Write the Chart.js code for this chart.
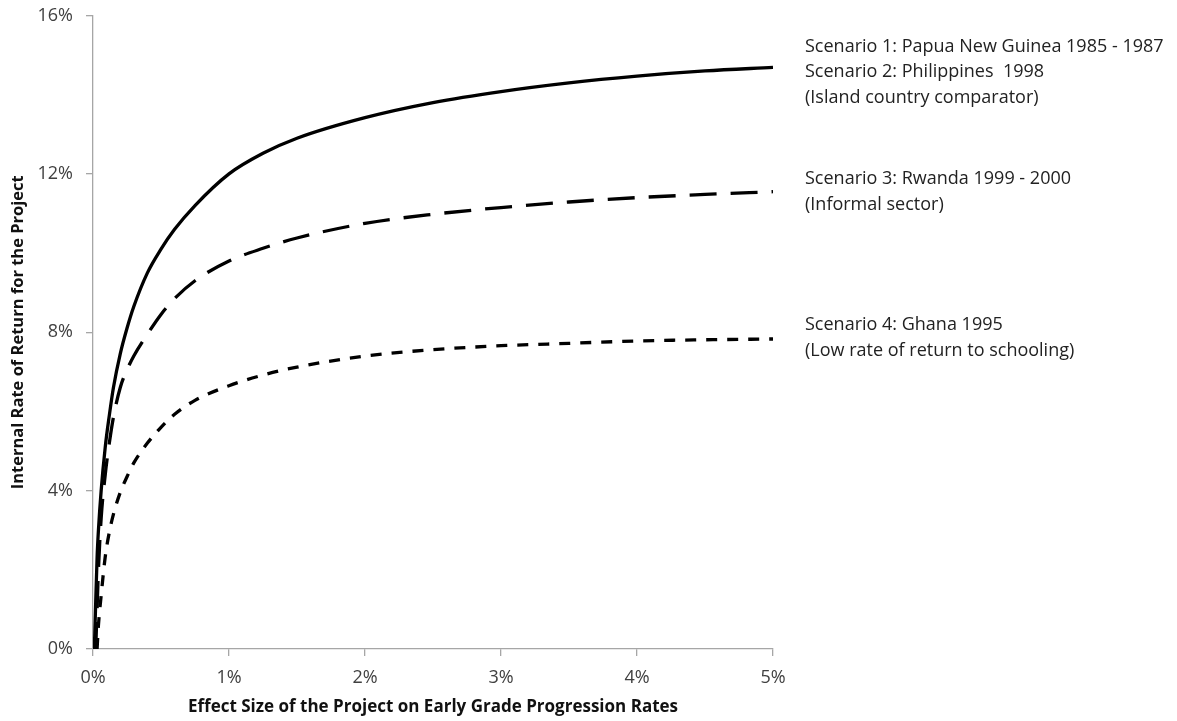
<!DOCTYPE html>
<html>
<head>
<meta charset="utf-8">
<script src="https://cdn.jsdelivr.net/npm/chart.js@4.4.1/dist/chart.umd.min.js"></script>
<style>
  html, body { margin: 0; padding: 0; background: #fff; }
  #irrChart { display: block; }
</style>
</head>
<body>
<canvas id="irrChart" width="1177" height="721"></canvas>
<script>
// effect size (%) sampled along the x axis
var effectSize = [0, 0.01, 0.02, 0.03, 0.04, 0.06, 0.09, 0.12, 0.15, 0.2, 0.25, 0.3, 0.4, 0.5, 0.6, 0.75, 1, 1.25, 1.5, 2, 2.5, 3, 3.5, 4, 4.5, 5];

// IRR (%)
var irrScenario12 = [null, 0, 1.2, 2.3, 3.0, 4.0, 5.1, 5.9, 6.6, 7.45, 8.1, 8.65, 9.5, 10.1, 10.6, 11.2, 12.0, 12.52, 12.9, 13.42, 13.8, 14.08, 14.3, 14.47, 14.6, 14.69];
var irrScenario3 = [null, null, 0, 1.0, 2.0, 3.3, 4.4, 5.2, 5.85, 6.6, 7.05, 7.4, 7.95, 8.45, 8.85, 9.3, 9.8, 10.12, 10.38, 10.75, 10.98, 11.15, 11.29, 11.4, 11.48, 11.55];
var irrScenario4 = [null, null, null, 0, 0.6, 1.35, 2.33, 2.95, 3.4, 3.95, 4.35, 4.7, 5.2, 5.6, 5.93, 6.28, 6.65, 6.92, 7.12, 7.4, 7.56, 7.66, 7.72, 7.78, 7.81, 7.83];

var xTicks = [0, 1, 2, 3, 4, 5];
var yTicks = [0, 4, 8, 12, 16];

// text beside the lines, first line anchored at a value on the y axis
var scenarioLabels = [
    { top: 15.22, lines: ["Scenario 1: Papua New Guinea 1985 - 1987", "Scenario 2: Philippines  1998", "(Island country comparator)"] },
    { top: 11.87, lines: ["Scenario 3: Rwanda 1999 - 2000", "(Informal sector)"] },
    { top: 8.18, lines: ["Scenario 4: Ghana 1995", "(Low rate of return to schooling)"] }
];

function toPoints(values){
    var pts = [];
    values.forEach(function(v, i){
        if(v !== null){
            pts.push({ x: effectSize[i], y: v });
        }
    });
    return pts;
}

var axisGray = "#a6a6a6";
var tickFont = { family: "'Open Sans', sans-serif", size: 18 };

var labelPlugin = {
    id: "scenarioLabels",
    afterDraw: function(chart){
        var ctx = chart.ctx;
        var yScale = chart.scales.y;
        var left = chart.chartArea.right + 32;
        ctx.save();
        ctx.font = "18px 'Open Sans', sans-serif";
        ctx.fillStyle = "#222";
        ctx.textBaseline = "middle";
        ctx.textAlign = "left";
        scenarioLabels.forEach(function(block){
            var y0 = yScale.getPixelForValue(block.top);
            block.lines.forEach(function(line, j){
                ctx.fillText(line, left, y0 + j * 25.5);
            });
        });
        ctx.restore();
    }
};

var lineStyle = function(label, values, dash){
    return {
        label: label,
        data: toPoints(values),
        borderColor: "#000",
        borderWidth: 3.3,
        borderDash: dash,
        borderCapStyle: "butt",
        pointRadius: 0,
        fill: false,
        cubicInterpolationMode: "monotone"
    };
};

new Chart(document.getElementById("irrChart").getContext("2d"), {
    type: "line",
    data: {
        datasets: [
            lineStyle("Scenario 1 / 2", irrScenario12, []),
            lineStyle("Scenario 3", irrScenario3, [27, 14]),
            lineStyle("Scenario 4", irrScenario4, [11, 10])
        ]
    },
    options: {
        responsive: false,
        animation: false,
        layout: { padding: { top: 15.5, right: 404, left: 4, bottom: 0 } },
        plugins: {
            legend: { display: false },
            tooltip: { enabled: false }
        },
        scales: {
            x: {
                type: "linear",
                min: 0,
                max: 5,
                afterBuildTicks: function(axis){
                    axis.ticks = xTicks.map(function(v){ return { value: v }; });
                },
                afterFit: function(axis){ axis.height = 72; },
                border: { display: true, color: axisGray, width: 1.3 },
                grid: { display: true, drawOnChartArea: false, drawTicks: true, tickLength: 7, color: axisGray, lineWidth: 1.3 },
                ticks: {
                    padding: 11,
                    color: "#404040",
                    font: tickFont,
                    maxRotation: 0,
                    callback: function(v){ return v + "%"; }
                },
                title: {
                    display: true,
                    text: "Effect Size of the Project on Early Grade Progression Rates",
                    color: "#111",
                    font: { family: "'Open Sans', sans-serif", size: 17, weight: "bold" }
                }
            },
            y: {
                min: 0,
                max: 16,
                afterBuildTicks: function(axis){
                    axis.ticks = yTicks.map(function(v){ return { value: v }; });
                },
                afterFit: function(axis){
                    axis.width = 89;
                    axis.paddingTop = 0;
                    axis.paddingBottom = 0;
                },
                border: { display: true, color: axisGray, width: 1.3 },
                grid: { display: true, drawOnChartArea: false, drawTicks: true, tickLength: 7, color: axisGray, lineWidth: 1.3 },
                ticks: {
                    padding: 13,
                    color: "#404040",
                    font: tickFont,
                    callback: function(v){ return v + "%"; }
                },
                title: {
                    display: true,
                    text: "Internal Rate of Return for the Project",
                    color: "#111",
                    font: { family: "'Open Sans', sans-serif", size: 16.5, weight: "bold" }
                }
            }
        }
    },
    plugins: [labelPlugin]
});
</script>
</body>
</html>
